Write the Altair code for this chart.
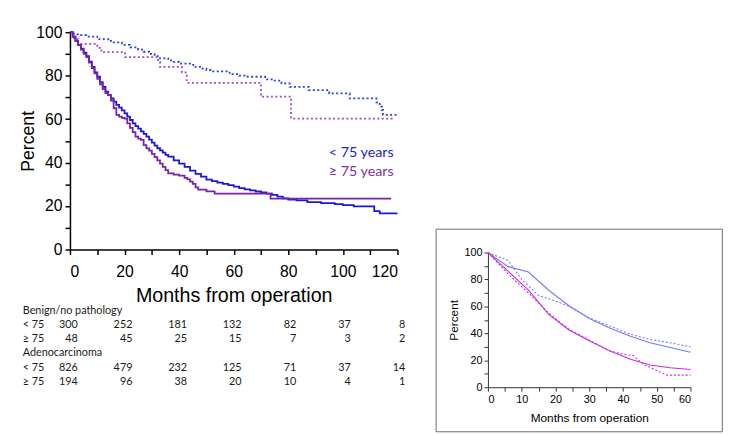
import altair as alt
import pandas as pd

# ---------------- main Kaplan-Meier curves (months, percent) ----------------
adeno_lt75_t = list(range(0, 37)) + [38, 40, 42, 44, 46, 48, 50, 52, 54, 56, 58, 60, 62, 64, 66, 68, 70, 72, 74,
                                     76, 78, 80, 83, 87, 92, 97, 100, 104, 111.5, 113.5, 120]
adeno_lt75_p = [100, 98, 96, 94.2, 92.4, 90.6, 89, 86.5, 84, 81.5, 79.5, 77, 74.8, 72.7, 71, 69.5, 68, 66.6, 65.3,
                64, 62.6, 61.1, 59.6, 58, 56.8, 55.6, 54.4, 53.2, 52, 50.6, 49.2, 47.8, 46.6, 45.6, 44.6, 43.6, 42.7,
                41, 39.5, 38, 36.3, 34.8, 33.5, 32.2, 31.5, 30.8, 30.2, 29.6, 28.9, 28.3, 27.7, 27.2, 26.7, 26.3,
                25.7, 25.1, 24.3, 23.5, 23.0, 22.6, 21.8, 21.4, 20.9, 20.4, 19.9, 17.7, 16.6, 16.6]

adeno_ge75_t = list(range(0, 37)) + [38, 40, 42, 43, 44, 45, 46, 47, 50, 53, 73.5, 117.7]
adeno_ge75_p = [100, 98, 96, 94, 92, 90, 88.5, 86, 83.5, 81, 78.5, 76, 73.8, 72, 71, 68.5, 65, 62, 61.2, 60.6,
                60.2, 58, 56, 54, 52, 51, 50.5, 48, 46.5, 45.5, 44, 42.5, 41, 39.5, 38, 36.5, 35,
                34.5, 34, 33, 32.3, 31.2, 30.2, 28.6, 27.6, 26.8, 25.7, 23.4, 23.4]

benign_lt75_t = [0, 1, 3, 6, 10, 14, 16, 19, 22, 25, 27, 29, 31, 33, 36, 38, 40, 44, 46, 48, 50, 51.5, 58.5, 62, 64,
                 71.5, 75, 77.5, 80.5, 87.5, 95, 102.5, 112.3, 113.5, 114.3, 114.7, 120]
benign_lt75_p = [100, 99, 98.6, 98, 96.8, 96, 95.3, 94.2, 93, 92, 91, 90, 89, 88, 87, 86.3, 85.5, 85, 84, 83.2,
                 82.6, 82, 80.7, 80, 79.5, 78.3, 77.7, 76.4, 74.8, 73.3, 71.8, 69.5, 67.7, 65.7, 64.2, 62, 62]

benign_ge75_t = [0, 1.5, 3, 10, 11.5, 20.2, 32.3, 33, 41, 42.8, 70, 81, 119]
benign_ge75_p = [100, 96.8, 94.6, 92.8, 90.8, 88.5, 86.3, 84, 81.5, 76.7, 70.3, 60.2, 60.2]

legend_labels = ["< 75 years", "\u2265 75 years"]

# ---------------- number at risk ----------------
risk_months = [0, 20, 40, 60, 80, 100, 120]
row_labels = ["Benign/no pathology", "< 75", "\u2265 75", "Adenocarcinoma", "< 75", "\u2265 75"]
benign_lt75_n = [300, 252, 181, 132, 82, 37, 8]
benign_ge75_n = [48, 45, 25, 15, 7, 3, 2]
adeno_lt75_n = [826, 479, 232, 125, 71, 37, 14]
adeno_ge75_n = [194, 96, 38, 20, 10, 4, 1]

# ---------------- inset curves ----------------
in_blue_solid_t = [0, 6, 12, 18, 24, 30, 36, 42, 48, 54, 60]
in_blue_solid_p = [100, 89.5, 85.5, 72, 60.5, 51, 44, 38, 33, 29.5, 26]
in_blue_dot_t = [0, 6, 10, 15, 20, 24, 30, 36, 42, 48, 54, 60]
in_blue_dot_p = [100, 94, 80, 68, 64, 60, 51.5, 45.5, 39.5, 35.5, 33, 30]
in_mag_solid_t = [0, 6, 12, 18, 24, 30, 36, 42, 48, 54, 60]
in_mag_solid_p = [100, 86, 72, 54, 42.5, 34.5, 27, 21, 16.5, 14.5, 13.2]
in_mag_dot_t = [0, 6, 12, 18, 24, 30, 36, 40, 43, 46, 50, 53, 60]
in_mag_dot_p = [100, 84, 70, 55, 43, 35, 27, 24.5, 23.5, 17, 12.5, 9, 9]

BLUE = "#1a1ad4"
PURPLE = "#7b22a8"
BLUE_DOT = "#2b3ee0"
PURPLE_DOT = "#a347c9"
IN_BLUE = "#7878f8"
IN_MAG = "#c62ee0"

AXFONT = "Liberation Sans"
TXTFONT = "Lato"

# ---------------- main chart ----------------
x_main = alt.X("t:Q", scale=alt.Scale(domain=[0, 120], nice=False, zero=False),
               axis=alt.Axis(values=list(range(0, 121, 10)), grid=False,
                             labelExpr="datum.value % 20 === 0 ? datum.label : ''",
                             title="Months from operation", titleFontSize=20, titlePadding=7,
                             titleFontWeight=400, titleFont=AXFONT, labelFont=AXFONT,
                             labelFontSize=16, labelPadding=9, tickSize=5, domainWidth=1.5,
                             tickWidth=1.5, domainColor="black", tickColor="black",
                             labelColor="black", titleColor="black"))
y_main = alt.Y("p:Q", scale=alt.Scale(domain=[0, 100], nice=False),
               axis=alt.Axis(values=list(range(0, 101, 10)), grid=False,
                             labelExpr="datum.value % 20 === 0 ? datum.label : ''",
                             title="Percent", titleFontSize=18, titlePadding=-2,
                             titleFontWeight=400, titleFont=AXFONT, labelFont=AXFONT,
                             labelFontSize=16, labelPadding=3, tickSize=5, domainWidth=1.5,
                             tickWidth=1.5, domainColor="black", tickColor="black",
                             labelColor="black", titleColor="black"))


def step_line(t, p, color, dash=None, width=1.8):
    kw = dict(interpolate="step-after", color=color, strokeWidth=width)
    if dash:
        kw["strokeDash"] = dash
    return alt.Chart(pd.DataFrame({"t": t, "p": p})).mark_line(**kw).encode(x=x_main, y=y_main)


legend_df = pd.DataFrame({"t": [118.6, 118.6], "p": [44.2, 35.6], "label": legend_labels,
                          "c": ["#2020e6", "#8030b0"]})
legend = alt.Chart(legend_df).mark_text(align="right", baseline="middle", font=TXTFONT,
                                        fontSize=14.5).encode(
    x=x_main, y=y_main, text="label:N", color=alt.Color("c:N", scale=None))

main = alt.layer(
    step_line(benign_lt75_t, benign_lt75_p, BLUE_DOT, [2, 2.5], 1.8),
    step_line(benign_ge75_t, benign_ge75_p, PURPLE_DOT, [2, 2.5], 1.8),
    step_line(adeno_lt75_t, adeno_lt75_p, BLUE, None, 1.8),
    step_line(adeno_ge75_t, adeno_ge75_p, PURPLE, None, 1.8),
    legend,
).properties(width=333, height=221)

# ---------------- number-at-risk table ----------------
num_rows = []
for r, vals in [(1, benign_lt75_n), (2, benign_ge75_n), (4, adeno_lt75_n), (5, adeno_ge75_n)]:
    for m, v in zip(risk_months, vals):
        num_rows.append({"row": r, "t": m, "n": str(v)})
num_df = pd.DataFrame(num_rows)
lab_df = pd.DataFrame({"row": list(range(6)), "label": row_labels})

y_tab = alt.Y("row:O", axis=None, scale=alt.Scale(domain=list(range(6)), padding=0.5))
x_tab = alt.X("t:Q", axis=None, scale=alt.Scale(domain=[0, 120], nice=False, zero=False))

tab_nums = alt.Chart(num_df).mark_text(align="right", baseline="middle", font=TXTFONT, fontSize=11,
                                       dx=8, color="#1a1a1a").encode(x=x_tab, y=y_tab, text="n:N")
tab_labels = alt.Chart(lab_df).mark_text(align="left", baseline="middle", font=TXTFONT, fontSize=11,
                                         color="#1a1a1a").encode(x=alt.value(-48), y=y_tab, text="label:N")
table = alt.layer(tab_nums, tab_labels).properties(width=333, height=87)

# ---------------- inset ----------------
x_in = alt.X("t:Q", scale=alt.Scale(domain=[0, 60], nice=False, zero=False),
             axis=alt.Axis(values=list(range(0, 61, 5)), grid=False,
                           labelExpr="datum.value % 10 === 0 ? datum.label : ''",
                           title="Months from operation", titleFontSize=12, titlePadding=8,
                           titleFontWeight=400, titleFont=AXFONT, labelFont=AXFONT,
                           labelFontSize=11, labelPadding=3, tickSize=4, domainWidth=1, tickWidth=1,
                           domainColor="#333333", tickColor="#333333",
                           labelColor="black", titleColor="black"))
y_in = alt.Y("p:Q", scale=alt.Scale(domain=[0, 100], nice=False),
             axis=alt.Axis(values=list(range(0, 101, 10)), grid=False,
                           labelExpr="datum.value % 20 === 0 ? datum.label : ''",
                           title="Percent", titleFontSize=12, titlePadding=4,
                           titleFontWeight=400, titleFont=AXFONT, labelFont=AXFONT,
                           labelFontSize=11, labelPadding=2, tickSize=4, domainWidth=1, tickWidth=1,
                           domainColor="#333333", tickColor="#333333",
                           labelColor="black", titleColor="black"))


def in_line(t, p, color, dash=None):
    kw = dict(color=color, strokeWidth=1.1)
    if dash:
        kw["strokeDash"] = dash
    return alt.Chart(pd.DataFrame({"t": t, "p": p})).mark_line(**kw).encode(x=x_in, y=y_in)


box = alt.Chart(pd.DataFrame({"k": [0]})).mark_rect(fill="white", fillOpacity=0, stroke="#6b6b6b",
                                                    strokeWidth=1).encode(
    x=alt.value(-52.7), x2=alt.value(238.3), y=alt.value(-23.7), y2=alt.value(182.3))

inset = alt.layer(
    box,
    in_line(in_blue_dot_t, in_blue_dot_p, IN_BLUE, [2, 2]),
    in_line(in_mag_dot_t, in_mag_dot_p, IN_MAG, [2, 2]),
    in_line(in_blue_solid_t, in_blue_solid_p, IN_BLUE),
    in_line(in_mag_solid_t, in_mag_solid_p, IN_MAG),
).properties(width=206, height=137)

spacer = alt.Chart(pd.DataFrame({"k": [0]})).mark_point(opacity=0).encode(
    x=alt.value(0), y=alt.value(0)).properties(width=1, height=223.7)

left = alt.vconcat(main, table, spacing=55, bounds="flush")
right = alt.vconcat(spacer, inset, spacing=0, bounds="flush")

chart = alt.hconcat(left, right, spacing=30).properties(
    padding={"left": 12, "top": 13, "right": 0, "bottom": 0},
    background="white"
).configure_view(stroke="transparent", strokeWidth=0).configure_axis(
    grid=False, labelFont=AXFONT, titleFont=AXFONT, titleFontWeight="normal",
    labelColor="black", titleColor="black"
)

chart.save("out.html", embed_options={"renderer": "svg", "actions": False})
